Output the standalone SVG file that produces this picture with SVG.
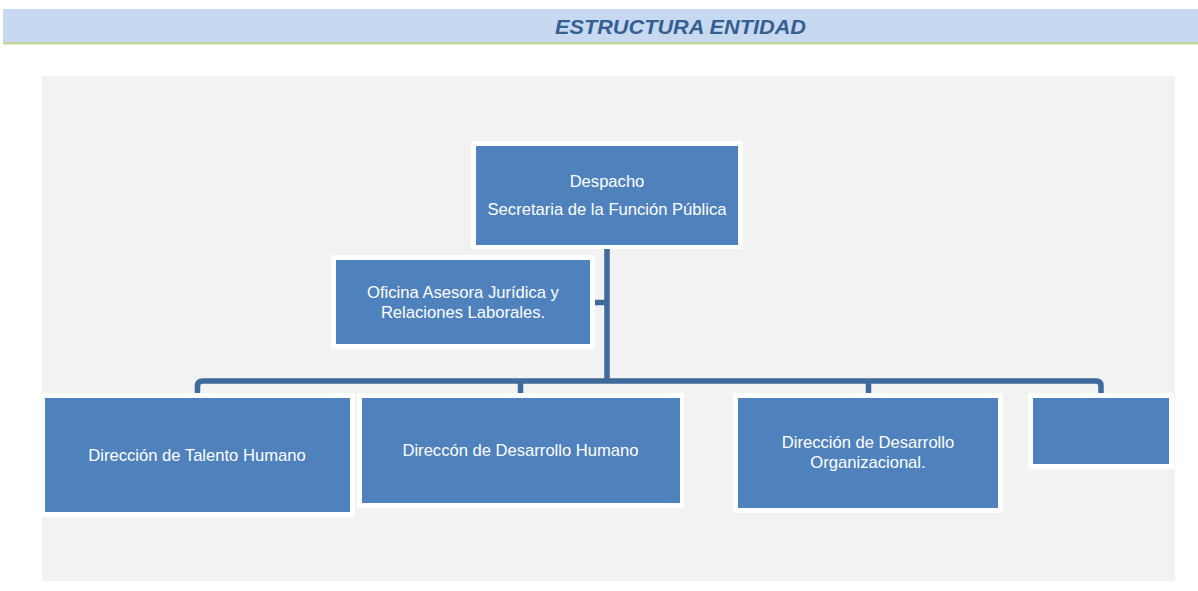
<svg xmlns="http://www.w3.org/2000/svg" width="1198" height="591" viewBox="0 0 1198 591">
<style>
.frame{fill:#ffffff}
.box{fill:#4f81bd}
.lbl{font-family:"Liberation Sans",Arial,sans-serif;font-size:16.6px;fill:#ffffff;text-anchor:middle}
.conn{fill:none;stroke:#3f6a9c;stroke-width:5.5}
.title{font-family:"Liberation Sans Narrow","Liberation Sans",Arial,sans-serif;font-size:21px;font-weight:bold;font-style:italic;fill:#365f91;text-anchor:middle}
</style>
<rect x="0" y="0" width="1198" height="591" fill="#ffffff"/>
<g id="header">
<rect x="3" y="9" width="1195" height="33" fill="#c6d9f0"/>
<rect x="3" y="42" width="1195" height="2.5" fill="#c3d69b"/>
<text class="title" x="680.5" y="34" textLength="251" lengthAdjust="spacingAndGlyphs">ESTRUCTURA ENTIDAD</text>
</g>
<rect id="canvas" x="42" y="76" width="1133" height="505" fill="#f2f2f2"/>
<g id="connectors">
<path class="conn" d="M197.5 396 V386 Q197.5 381 202.5 381 H1096 Q1101 381 1101 386 V396"/>
<line class="conn" x1="607" y1="248" x2="607" y2="381"/>
<line class="conn" x1="520.5" y1="381" x2="520.5" y2="396"/>
<line class="conn" x1="868.5" y1="381" x2="868.5" y2="396"/>
<line class="conn" x1="593" y1="302.5" x2="607" y2="302.5"/>
</g>
<g id="despacho">
<rect class="frame" x="471" y="141" width="272" height="108" rx="2"/>
<rect class="box" x="476" y="146" width="262" height="99"/>
<text class="lbl" x="607" y="187">Despacho</text>
<text class="lbl" x="607" y="215">Secretaria de la Función Pública</text>
</g>
<g id="oficina">
<rect class="frame" x="331" y="255" width="264" height="94" rx="2"/>
<rect class="box" x="336" y="260" width="254" height="84"/>
<text class="lbl" x="463" y="298">Oficina Asesora Jurídica y</text>
<text class="lbl" x="463" y="318">Relaciones Laborales.</text>
</g>
<g id="talento">
<rect class="frame" x="42" y="393" width="313" height="124" rx="2"/>
<rect class="box" x="45" y="398" width="305" height="114"/>
<text class="lbl" x="197" y="461">Dirección de Talento Humano</text>
</g>
<g id="desarrollo-humano">
<rect class="frame" x="357" y="393" width="327" height="115" rx="2"/>
<rect class="box" x="362" y="398" width="318" height="105"/>
<text class="lbl" x="520.5" y="456">Direccón de Desarrollo Humano</text>
</g>
<g id="desarrollo-org">
<rect class="frame" x="733" y="393" width="270" height="120" rx="2"/>
<rect class="box" x="738" y="398" width="260" height="110"/>
<text class="lbl" x="868" y="448">Dirección de Desarrollo</text>
<text class="lbl" x="868" y="468">Organizacional.</text>
</g>
<g id="vacante">
<rect class="frame" x="1028" y="393" width="146" height="76" rx="2"/>
<rect class="box" x="1033" y="398" width="136" height="66"/>
</g>
</svg>
